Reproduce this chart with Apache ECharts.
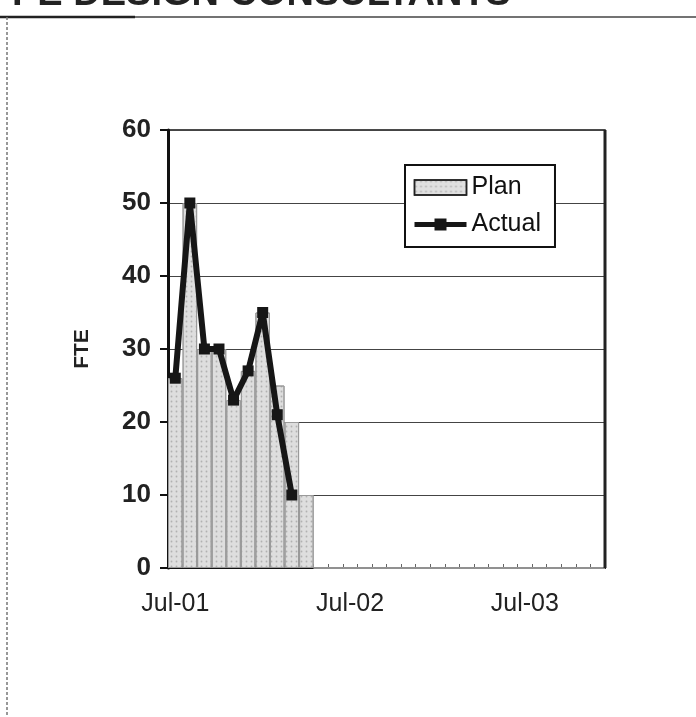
<!DOCTYPE html>
<html>
<head>
<meta charset="utf-8">
<script src="https://cdn.jsdelivr.net/npm/echarts@6/dist/echarts.min.js"></script>
<style>
html,body{margin:0;padding:0;background:#fff;}
#chart{width:696px;height:717px;}
</style>
</head>
<body>
<div id="chart"></div>
<script>
const titleText = 'PE DESIGN CONSULTANTS';
const months = ['Jul-01','Aug-01','Sep-01','Oct-01','Nov-01','Dec-01',
  'Jan-02','Feb-02','Mar-02','Apr-02','May-02','Jun-02',
  'Jul-02','Aug-02','Sep-02','Oct-02','Nov-02','Dec-02',
  'Jan-03','Feb-03','Mar-03','Apr-03','May-03','Jun-03',
  'Jul-03','Aug-03','Sep-03','Oct-03','Nov-03','Dec-03'];
const planValues = [26,50,30,30,23,27,35,25,20,10,0,0,0,0,0,0,0,0,0,0,0,0,0,0,0,0,0,0,0,0];
const actualValues = [26,50,30,30,23,27,35,21,10,null,null,null,null,null,null,null,null,null,null,null,null,null,null,null,null,null,null,null,null,null];
const yTicks = {min:0, max:60, interval:10};

const FONT = '"Liberation Sans", Arial, sans-serif';
const chart = echarts.init(document.getElementById('chart'));
chart.setOption({
  backgroundColor:'#ffffff',
  animation:false,
  graphic:[
    {type:'text', x:12, y:14, style:{text:titleText, font:'bold 38px "Liberation Sans", Arial, sans-serif', fill:'#222', verticalAlign:'bottom'}},
    {type:'line', shape:{x1:0,y1:17,x2:696,y2:17}, style:{stroke:'#444', lineWidth:1.5}},
    {type:'line', shape:{x1:0,y1:17,x2:135,y2:17}, style:{stroke:'#222', lineWidth:2.5}},
    {type:'line', shape:{x1:7,y1:17,x2:7,y2:717}, style:{stroke:'#777', lineWidth:1.5, lineDash:[3,2]}},
    {type:'rect', shape:{x:168,y:130,width:437,height:438}, style:{fill:'none', stroke:'#111', lineWidth:1.5}, z:-1},
    {type:'line', shape:{x1:605,y1:130,x2:605,y2:568}, style:{stroke:'#222', lineWidth:3}, z:10}
  ],
  legend:{
    orient:'vertical', left:405, top:165,
    backgroundColor:'#fff', borderColor:'#111', borderWidth:2,
    padding:[10,14,10,7], itemGap:12, itemWidth:52, itemHeight:15,
    textStyle:{fontFamily:FONT, fontSize:25, color:'#111'},
    data:[
      {name:'Plan', icon:'rect', itemStyle:{color:'#e0e0e0', borderColor:'#222', borderWidth:1.5}},
      {name:'Actual', lineStyle:{width:5, color:'#161616'}, itemStyle:{color:'#161616'}}
    ]
  },
  grid:{left:168, right:91, top:130, bottom:149, containLabel:false},
  xAxis:{
    type:'category', data:months, boundaryGap:true,
    axisLine:{lineStyle:{color:'#111', width:2}},
    axisTick:{show:true, inside:true, length:4, interval:0, lineStyle:{color:'#666'}},
    axisLabel:{interval:11, margin:24, fontFamily:FONT, fontSize:25, color:'#222'},
    splitLine:{show:false}
  },
  yAxis:{
    type:'value', min:yTicks.min, max:yTicks.max, interval:yTicks.interval,
    name:'FTE', nameLocation:'middle', nameGap:75, nameRotate:90,
    nameTextStyle:{fontFamily:FONT, fontSize:21, fontWeight:'bold', color:'#222'},
    axisLine:{show:true, lineStyle:{color:'#111', width:3}},
    axisTick:{show:true, length:8, lineStyle:{color:'#111', width:2}},
    axisLabel:{margin:17, fontFamily:FONT, fontSize:26, fontWeight:'bold', color:'#222'},
    splitLine:{show:true, lineStyle:{color:'#444', width:1.2}}
  },
  series:[
    {
      name:'Plan', type:'bar', data:planValues, barCategoryGap:'0%',
      itemStyle:{color:'#dedede', borderColor:'#9a9a9a', borderWidth:1,
        decal:{symbol:'circle', symbolSize:0.6, color:'rgba(110,110,110,0.4)', dashArrayX:[3,2], dashArrayY:[3,2], rotation:0}},
      emphasis:{disabled:true}
    },
    {
      name:'Actual', type:'line', data:actualValues, connectNulls:false,
      symbol:'rect', symbolSize:11, showAllSymbol:true,
      lineStyle:{color:'#161616', width:6},
      itemStyle:{color:'#161616'},
      z:5
    }
  ]
});
</script>
</body>
</html>
